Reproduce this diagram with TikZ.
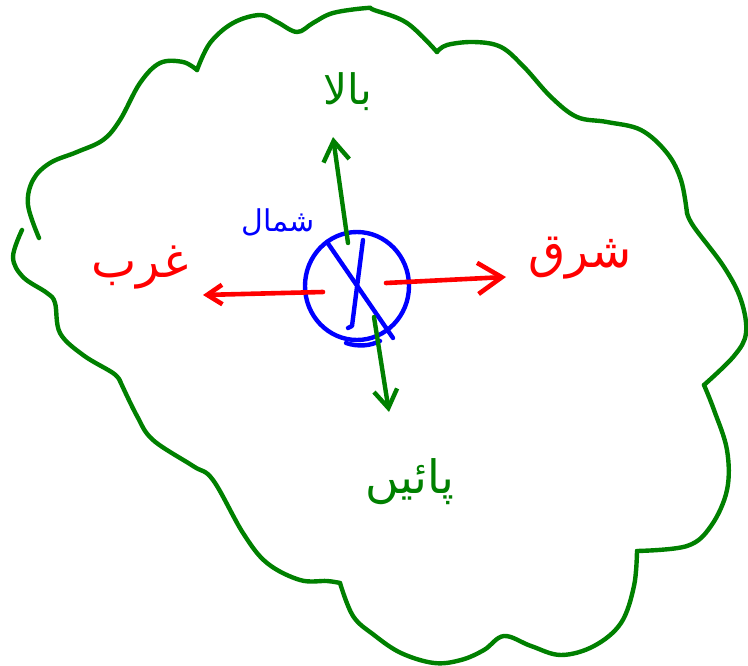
\documentclass[tikz,border=0pt]{standalone}
\usepackage{fontspec}
\newfontfamily\arabicfont[Script=Arabic]{DejaVu Sans}
\TeXXeTstate=1
\usetikzlibrary{arrows.meta}
\definecolor{pgreen}{RGB}{0,128,0}
\definecolor{pred}{RGB}{255,0,0}
\definecolor{pblue}{RGB}{0,0,255}
\begin{document}
\begin{tikzpicture}[x=1pt,y=-1pt,line cap=round,line join=round,
  cloudline/.style={pgreen,line width=4.4pt},
  gline/.style={pgreen,line width=4.4pt},
  rline/.style={pred,line width=4.6pt},
  bline/.style={pblue,line width=4.4pt},
  barb/.style={-{Straight Barb[length=#1,width=1.3*#1]}},
  lbl/.style={inner sep=0pt,font=\arabicfont}]
\useasboundingbox (0,0) rectangle (748,666);
% cloud outline
\draw[cloudline] plot[smooth,tension=0.6] coordinates {(39,238) (28,205) (33,180) (50,163) (77,152) (103,140) (120,120) (140,83) (160,63) (183,62) (197,70)};
\draw[cloudline] plot[smooth,tension=0.6] coordinates {(197,70) (210,43) (233,23) (260,15) (277,22) (297,32) (313,23) (333,13) (367,8) (374,10) (407,23) (437,52)};
\draw[cloudline] plot[smooth,tension=0.6] coordinates {(437,52) (447,45) (474,42) (501,47) (524,67) (551,97) (577,117) (607,122) (641,130) (667,153) (681,180) (687,213)};
\draw[cloudline] plot[smooth,tension=0.6] coordinates {(687,213) (694,227) (724,267) (741,300) (746,333) (734,356) (704,385)};
\draw[cloudline] plot[smooth,tension=0.6] coordinates {(704,385) (714,410) (727,450) (727,490) (711,526) (687,546) (637,551)};
\draw[cloudline] plot[smooth,tension=0.6] coordinates {(637,551) (634,586) (621,623) (594,646) (561,655) (531,646) (504,636) (484,650) (461,660) (434,663) (401,653) (374,635) (353,616) (340,583)};
\draw[cloudline] plot[smooth,tension=0.6] coordinates {(340,583) (327,581) (300,580) (267,563) (243,533) (213,480) (193,466) (153,440) (137,416) (120,381)};
\draw[cloudline] plot[smooth,tension=0.6] coordinates {(120,381) (113,373) (83,355) (60,333) (55,303) (47,293) (23,277) (13,257) (22,230)};
% central symbol
\coordinate (c) at (357,286);
\draw[bline] (c) ellipse [x radius=52pt,y radius=54pt];
\draw[bline] (327,242) -- (393,338);
\draw[bline] (363,240) -- (352,326) -- (348,328);
\draw[bline] (346,343) .. controls (358,347) and (370,346) .. (380,341);
% arrows
\coordinate (ups) at (348,243);   \coordinate (upe) at (333,137);
\coordinate (dns) at (374,317);   \coordinate (dne) at (389,412);
\coordinate (lfs) at (323,292);   \coordinate (lfe) at (203,295);
\coordinate (rts) at (386,283);   \coordinate (rte) at (506,277);
\draw[gline,barb=20pt] (ups) -- (upe);
\draw[gline,barb=18pt] (dns) -- (dne);
\draw[rline,barb=15pt] (lfs) -- (lfe);
\draw[rline,barb=24pt] (rts) -- (rte);
% labels
\node[lbl,pgreen,font=\arabicfont\fontsize{42}{50}\selectfont] (up) at (348,92) {\beginR بالا\endR};
\node[lbl,pblue,font=\arabicfont\fontsize{30}{36}\selectfont] (north) at (278,222) {\beginR شمال\endR};
\node[lbl,pred,font=\arabicfont\fontsize{48}{56}\selectfont] (west) at (140,268) {\beginR غرب\endR};
\node[lbl,pred,font=\arabicfont\fontsize{48}{56}\selectfont] (east) at (580,258) {\beginR شرق\endR};
\node[lbl,pgreen,font=\arabicfont\fontsize{46}{54}\selectfont] (down) at (410,482) {\beginR پائیں\endR};
\end{tikzpicture}
\end{document}
